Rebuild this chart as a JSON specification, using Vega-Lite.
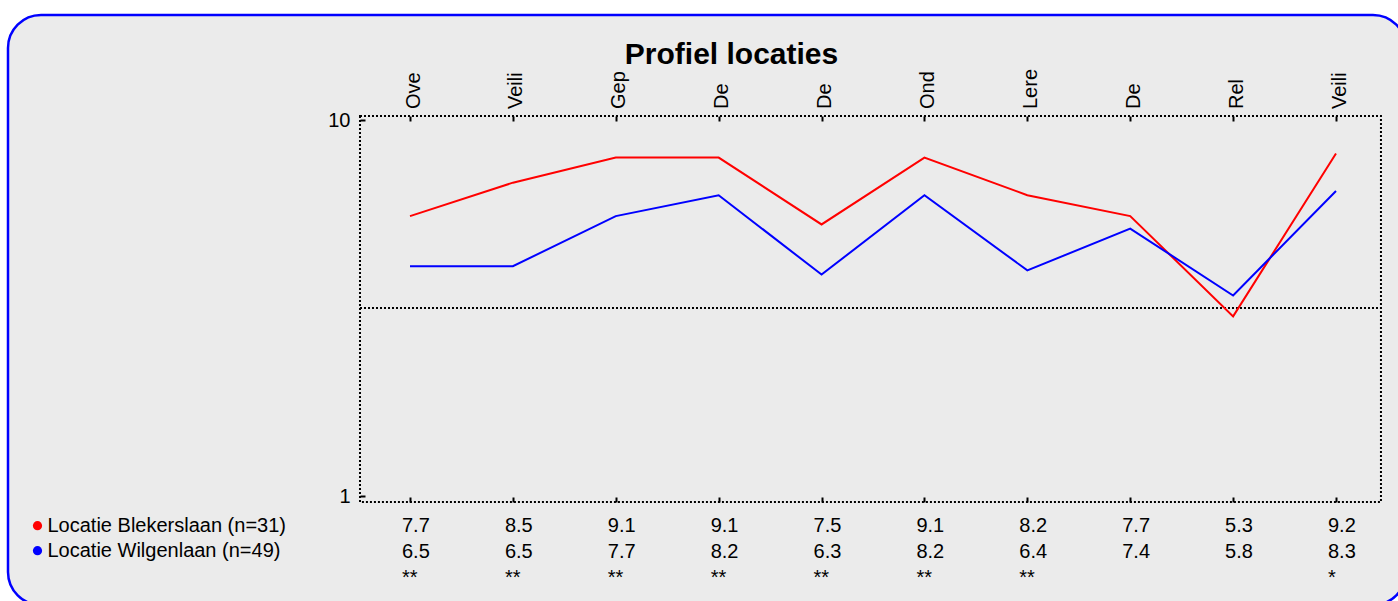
{
  "$schema": "https://vega.github.io/schema/vega-lite/v6.json",
  "width": 1398,
  "height": 590,
  "autosize": {"type": "none"},
  "padding": {"left": 8, "top": 15, "right": -8, "bottom": -4},
  "background": "white",
  "title": {
    "text": "Profiel locaties",
    "fontSize": 30,
    "fontWeight": "bold",
    "color": "black",
    "anchor": "middle",
    "frame": "group",
    "offset": 0,
    "baseline": "alphabetic",
    "dx": 24.5,
    "dy": 79
  },
  "config": {
    "font": "Liberation Sans",
    "view": {"fill": "#ebebeb", "stroke": "#0000ff", "strokeWidth": 2.5, "cornerRadius": 33},
    "axis": {"domain": false, "grid": false, "tickColor": "black", "tickWidth": 2, "labelColor": "black", "labelFontSize": 20, "labelFont": "Liberation Sans"},
    "text": {"font": "Liberation Sans", "fontSize": 20, "color": "black"}
  },
  "data": {
    "values": [
      {"idx": 1, "label": "Ove", "Locatie Blekerslaan (n=31)": 7.7, "Locatie Wilgenlaan (n=49)": 6.5, "sig": "**"},
      {"idx": 2, "label": "Veili", "Locatie Blekerslaan (n=31)": 8.5, "Locatie Wilgenlaan (n=49)": 6.5, "sig": "**"},
      {"idx": 3, "label": "Gep", "Locatie Blekerslaan (n=31)": 9.1, "Locatie Wilgenlaan (n=49)": 7.7, "sig": "**"},
      {"idx": 4, "label": "De", "Locatie Blekerslaan (n=31)": 9.1, "Locatie Wilgenlaan (n=49)": 8.2, "sig": "**"},
      {"idx": 5, "label": "De", "Locatie Blekerslaan (n=31)": 7.5, "Locatie Wilgenlaan (n=49)": 6.3, "sig": "**"},
      {"idx": 6, "label": "Ond", "Locatie Blekerslaan (n=31)": 9.1, "Locatie Wilgenlaan (n=49)": 8.2, "sig": "**"},
      {"idx": 7, "label": "Lere", "Locatie Blekerslaan (n=31)": 8.2, "Locatie Wilgenlaan (n=49)": 6.4, "sig": "**"},
      {"idx": 8, "label": "De", "Locatie Blekerslaan (n=31)": 7.7, "Locatie Wilgenlaan (n=49)": 7.4, "sig": ""},
      {"idx": 9, "label": "Rel", "Locatie Blekerslaan (n=31)": 5.3, "Locatie Wilgenlaan (n=49)": 5.8, "sig": ""},
      {"idx": 10, "label": "Veili", "Locatie Blekerslaan (n=31)": 9.2, "Locatie Wilgenlaan (n=49)": 8.3, "sig": "*"}
    ]
  },
  "resolve": {"axis": {"x": "independent", "y": "independent"}},
  "layer": [
    {
      "data": {"values": [{}]},
      "mark": {"type": "rect", "fill": "transparent", "stroke": "black", "strokeWidth": 2, "strokeDash": [2, 2]},
      "encoding": {
        "x": {"datum": 0.514, "type": "quantitative", "scale": {"type": "linear", "domain": [1, 10], "range": [402, 1328], "nice": false, "zero": false}, "axis": null},
        "x2": {"datum": 10.437},
        "y": {"datum": 0.8564, "type": "quantitative", "scale": {"type": "linear", "domain": [1, 10], "range": [481, 105], "nice": false, "zero": false}, "axis": null},
        "y2": {"datum": 10.0957}
      }
    },
    {
      "data": {"values": [{}]},
      "mark": {"type": "rule", "stroke": "black", "strokeWidth": 2, "strokeDash": [2, 2]},
      "encoding": {
        "x": {"datum": 0.514, "type": "quantitative", "axis": null},
        "x2": {"datum": 10.437},
        "y": {"datum": 5.5, "type": "quantitative", "axis": null}
      }
    },
    {
      "transform": [{"fold": ["Locatie Blekerslaan (n=31)", "Locatie Wilgenlaan (n=49)"], "as": ["serie", "score"]}],
      "mark": {"type": "line", "strokeWidth": 2},
      "encoding": {
        "x": {"field": "idx", "type": "quantitative", "axis": {"orient": "bottom", "offset": -103, "values": [1, 2, 3, 4, 5, 6, 7, 8, 9, 10], "labels": false, "tickSize": -5, "title": null}},
        "y": {"field": "score", "type": "quantitative", "axis": {"orient": "left", "offset": -352, "values": [1, 10], "tickSize": -5, "labelPadding": 15, "title": null}},
        "color": {
          "field": "serie", "type": "nominal",
          "scale": {"domain": ["Locatie Blekerslaan (n=31)", "Locatie Wilgenlaan (n=49)"], "range": ["#ff0000", "#0000ff"]},
          "legend": {
            "orient": "none", "legendX": 19.5, "legendY": 500.7, "title": null,
            "symbolType": "circle", "symbolSize": 85, "symbolStrokeWidth": 0,
            "labelFontSize": 20, "labelColor": "black", "labelOffset": 0, "rowPadding": 5, "padding": 0, "labelLimit": 400,
            "encode": {"symbols": {"update": {"fill": {"scale": "color", "field": "value"}, "stroke": {"value": "transparent"}}}}
          }
        },
        "order": {"field": "idx"}
      }
    },
    {
      "mark": {"type": "text", "angle": 270, "align": "left", "baseline": "alphabetic", "dx": 11, "dy": 9.5, "fontSize": 20},
      "encoding": {
        "x": {"field": "idx", "type": "quantitative", "axis": {"orient": "top", "offset": -101, "values": [1, 2, 3, 4, 5, 6, 7, 8, 9, 10], "labels": false, "tickSize": -5, "title": null}},
        "y": {"datum": 10, "type": "quantitative", "axis": null},
        "text": {"field": "label"}
      }
    },
    {
      "mark": {"type": "text", "align": "left", "baseline": "alphabetic", "dx": -8, "dy": 36.3},
      "encoding": {
        "x": {"field": "idx", "type": "quantitative", "axis": null},
        "y": {"datum": 1, "type": "quantitative", "axis": null},
        "text": {"field": "Locatie Blekerslaan (n=31)", "type": "quantitative", "format": ".1f"}
      }
    },
    {
      "mark": {"type": "text", "align": "left", "baseline": "alphabetic", "dx": -8, "dy": 62.3},
      "encoding": {
        "x": {"field": "idx", "type": "quantitative", "axis": null},
        "y": {"datum": 1, "type": "quantitative", "axis": null},
        "text": {"field": "Locatie Wilgenlaan (n=49)", "type": "quantitative", "format": ".1f"}
      }
    },
    {
      "mark": {"type": "text", "align": "left", "baseline": "alphabetic", "dx": -8, "dy": 88},
      "encoding": {
        "x": {"field": "idx", "type": "quantitative", "axis": null},
        "y": {"datum": 1, "type": "quantitative", "axis": null},
        "text": {"field": "sig"}
      }
    }
  ]
}
